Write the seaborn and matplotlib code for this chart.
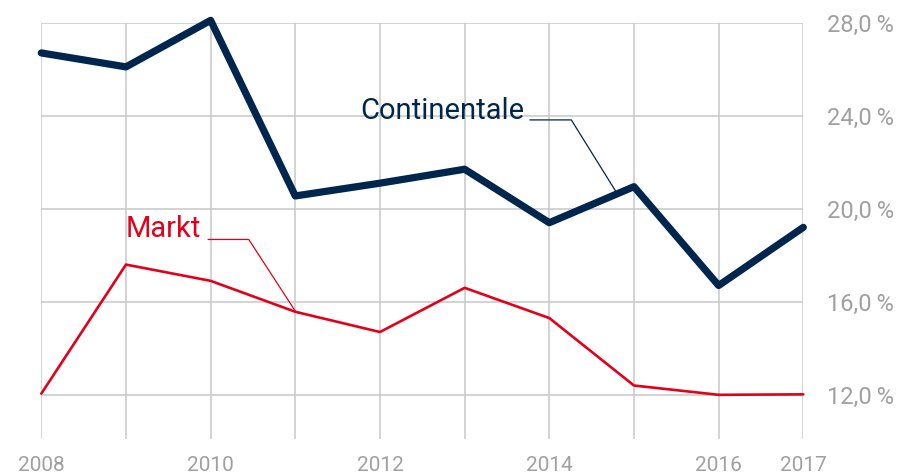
import matplotlib
matplotlib.use("Agg")
import matplotlib.pyplot as plt
import seaborn as sns
import pandas as pd

years = [2008, 2009, 2010, 2011, 2012, 2013, 2014, 2015, 2016, 2017]
continentale = [26.7, 26.1, 28.1, 20.55, 21.1, 21.7, 19.4, 20.95, 16.7, 19.2]
markt = [12.05, 17.6, 16.9, 15.57, 14.7, 16.6, 15.3, 12.4, 12.0, 12.02]
xtick_years = [2008, 2010, 2012, 2014, 2016, 2017]
ytick_vals = [12, 16, 20, 24, 28]
ytick_labels = ["12,0\u2009%", "16,0\u2009%", "20,0\u2009%", "24,0\u2009%", "28,0\u2009%"]

NAVY = "#00264d"
RED = "#e2001a"
GRAY = "#a0a0a0"
GRID = "#c8c8c8"

sns.set_theme(style="white")
plt.rcParams['font.family'] = ['Roboto', 'DejaVu Sans']

df = pd.DataFrame({"Jahr": years * 2,
                   "Wert": continentale + markt,
                   "Serie": ["Continentale"] * len(years) + ["Markt"] * len(years)})

fig = plt.figure(figsize=(9.19, 4.75), dpi=100)
ax = fig.add_axes([41.3 / 919, 1 - 439 / 475, (803.3 - 41.3) / 919, (439 - 22.7) / 475])

sns.lineplot(data=df[df.Serie == "Continentale"], x="Jahr", y="Wert", ax=ax,
             color=NAVY, linewidth=5.2, clip_on=False, zorder=4)
sns.lineplot(data=df[df.Serie == "Markt"], x="Jahr", y="Wert", ax=ax,
             color=RED, linewidth=1.9, clip_on=False, zorder=3)

ax.set_xlim(2008, 2017)
ax.set_ylim(10.1, 28)
ax.set_xticks(years)
ax.set_xticklabels([str(y) if y in xtick_years else "" for y in years])
ax.set_yticks(ytick_vals)
ax.set_yticklabels(ytick_labels)
ax.yaxis.tick_right()
ax.grid(True, color=GRID, linewidth=1.1)
ax.set_axisbelow(True)
for s in ax.spines.values():
    s.set_visible(False)
ax.tick_params(axis='both', length=0, colors=GRAY)
ax.tick_params(axis='x', labelsize=15, pad=12)
ax.tick_params(axis='y', labelsize=17, pad=17)
ax.set_xlabel("")
ax.set_ylabel("")

# labels with leader lines
ax.text(2013.70, 24.2, "Continentale", color=NAVY, fontsize=21, ha="right", va="center")
ax.plot([2013.77, 2014.26, 2014.79], [23.82, 23.82, 20.72], color=NAVY, linewidth=0.9, zorder=5)
ax.text(2009.89, 19.15, "Markt", color=RED, fontsize=21, ha="right", va="center")
ax.plot([2009.97, 2010.45, 2011.0], [18.68, 18.68, 15.6], color=RED, linewidth=0.9, zorder=5)

fig.savefig("out.png", dpi=100)
